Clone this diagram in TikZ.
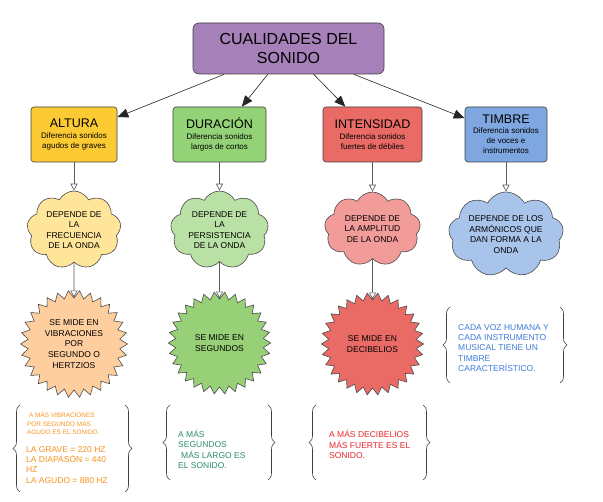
\documentclass[tikz,border=0pt]{standalone}
\usepackage{fontspec}
\setmainfont{Liberation Sans}
\usetikzlibrary{shapes.symbols,shapes.geometric,arrows.meta,decorations.pathreplacing}
\definecolor{cTit}{HTML}{A680B8}
\definecolor{cAlt}{HTML}{FCCB34}
\definecolor{cDur}{HTML}{93D276}
\definecolor{cInt}{HTML}{EA6B66}
\definecolor{cTim}{HTML}{7EA6E0}
\definecolor{cAltC}{HTML}{FFE59A}
\definecolor{cDurC}{HTML}{B9E0A5}
\definecolor{cIntC}{HTML}{F19C99}
\definecolor{cTimC}{HTML}{A9C4EB}
\definecolor{cAltS}{HTML}{FFCE9F}
\definecolor{cDurS}{HTML}{97D077}
\definecolor{cIntS}{HTML}{EA6B66}
\definecolor{tOra}{HTML}{F7931E}
\definecolor{tTeal}{HTML}{2E8B74}
\definecolor{tRed}{HTML}{E8262A}
\definecolor{tBlue}{HTML}{3D7BD9}
\begin{document}
\begin{tikzpicture}[x=1pt,y=-1pt,
  box/.style={draw=black!75, rounded corners=3pt, line width=0.6pt, minimum height=55pt, align=center, inner sep=1pt, font=\fontsize{8}{10}\selectfont},
  cloudbox/.style={cloud, cloud puffs=9, cloud puff arc=125, cloud ignores aspect, draw=black!70, line width=0.6pt, align=center, inner sep=0pt, font=\fontsize{8.5}{10.4}\selectfont},
  starbox/.style={star, star points=30, star point ratio=0.86, draw=black!70, line width=0.6pt, align=center, inner sep=0pt, font=\fontsize{8.5}{10.6}\selectfont},
  down/.style={draw=black!65, line width=0.6pt, -{Triangle[open,length=7pt,width=7pt,fill=white]}},
  mainarr/.style={draw=black!85, line width=0.6pt, -{Triangle[length=11pt,width=9pt]}},
  brc/.style={draw=black!75, line width=0.6pt, decorate, decoration={brace, amplitude=7pt}},
  note/.style={anchor=west, align=left, inner sep=0pt, font=\fontsize{8.5}{10.4}\selectfont}
]
\useasboundingbox[fill=white] (0,0) rectangle (603,502);

% title
\node[draw=black!75, rounded corners=6pt, line width=0.6pt, fill=cTit, minimum width=191pt, minimum height=51pt, align=center, font=\fontsize{16}{19.3}\selectfont] (titulo) at (288.5,48.5) {CUALIDADES DEL\\SONIDO};

% category boxes
\node[box, fill=cAlt, minimum width=86pt] (altura) at (74,134.5)
  {{\fontsize{12.5}{14}\selectfont ALTURA}\\[1pt]Diferencia sonidos\\agudos de graves};
\node[box, fill=cDur, minimum width=93pt] (duracion) at (219.5,134.5)
  {{\fontsize{12.5}{14}\selectfont DURACIÓN}\\[1pt]Diferencia sonidos\\largos de cortos};
\node[box, fill=cInt, minimum width=99pt] (intensidad) at (372.5,134.5)
  {{\fontsize{12.5}{14}\selectfont INTENSIDAD}\\[1pt]Diferencia sonidos\\fuertes de débiles};
\node[box, fill=cTim, minimum width=82pt] (timbre) at (506,134.5)
  {{\fontsize{12.5}{14}\selectfont TIMBRE}\\[0pt]Diferencia sonidos\\de voces e\\instrumentos};

% clouds
\node[cloudbox, fill=cAltC, minimum width=94pt, minimum height=78pt] (nubeA) at (74,230)
  {DEPENDE DE\\LA\\FRECUENCIA\\DE LA ONDA};
\node[cloudbox, fill=cDurC, minimum width=98pt, minimum height=78pt] (nubeD) at (219.5,230)
  {DEPENDE DE\\LA\\PERSISTENCIA\\DE LA ONDA};
\node[cloudbox, fill=cIntC, minimum width=96pt, minimum height=74pt] (nubeI) at (372.5,229)
  {DEPENDE DE\\LA AMPLITUD\\DE LA ONDA};
\node[cloudbox, fill=cTimC, minimum width=115pt, minimum height=85pt] (nubeT) at (506,234.5)
  {DEPENDE DE LOS\\ARMÓNICOS QUE\\DAN FORMA A LA\\ONDA};

% stars
\node[starbox, fill=cAltS, minimum size=92pt] (estA) at (74,344)
  {SE MIDE EN\\VIBRACIONES\\POR\\SEGUNDO O\\HERTZIOS};
\node[starbox, fill=cDurS, minimum size=88pt] (estD) at (219.5,343)
  {SE MIDE EN\\SEGUNDOS};
\node[starbox, fill=cIntS, minimum size=88pt] (estI) at (372.5,344)
  {SE MIDE EN\\DECIBELIOS};

% connectors
\draw[mainarr] (titulo) -- (altura);
\draw[mainarr] (titulo) -- (duracion);
\draw[mainarr] (titulo) -- (intensidad);
\draw[mainarr] (titulo) -- (timbre);
\draw[down] (altura) -- (nubeA);
\draw[down] (duracion) -- (nubeD);
\draw[down] (intensidad) -- (nubeI);
\draw[down] (timbre) -- (nubeT);
\draw[down] (nubeA) -- (estA);
\draw[down] (nubeD) -- (estD);
\draw[down] (nubeI) -- (estI);

% notes
\node[note, text=tOra, font=\fontsize{6.4}{8.3}\selectfont] (notaA1) at (27,423.5)
  {\hspace{2pt}A MÁS VIBRACIONES\\POR SEGUNDO MÁS\\AGUDO ES EL SONIDO.};
\node[note, text=tOra] (notaA2) at (26,464.7)
  {LA GRAVE = 220 HZ\\LA DIAPASÓN = 440\\HZ\\LA AGUDO = 880 HZ};
\node[note, text=tTeal] (notaD) at (178,449.5)
  {A MÁS\\SEGUNDOS\\\hspace{3pt}MÁS LARGO ES\\EL SONIDO.};
\node[note, text=tRed] (notaI) at (329,444.5)
  {A MÁS DECIBELIOS\\MÁS FUERTE ES EL\\SONIDO.};
\node[note, text=tBlue] (notaT) at (458,348)
  {CADA VOZ HUMANA Y\\CADA INSTRUMENTO\\MUSICAL TIENE UN\\TIMBRE\\CARACTERÍSTICO.};

% braces
\draw[brc] (20,492) -- (20,405);
\draw[brc] (125,405) -- (125,492);
\draw[brc] (170,480) -- (170,405);
\draw[brc] (268,405) -- (268,480);
\draw[brc] (316,480) -- (316,405);
\draw[brc] (423,405) -- (423,480);
\draw[brc] (450,383) -- (450,307);
\draw[brc] (560,307) -- (560,383);
\end{tikzpicture}
\end{document}
